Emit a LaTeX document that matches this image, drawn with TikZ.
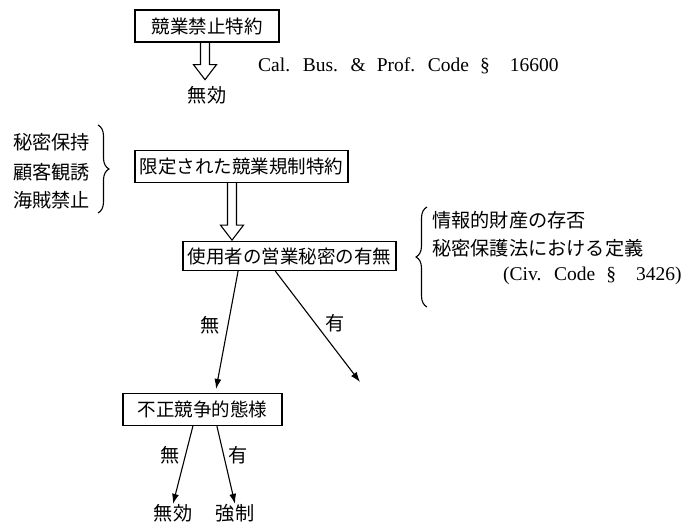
\documentclass[tikz,border=0pt]{standalone}
\usepackage{fontspec}
\setmainfont{Liberation Serif}
\newfontfamily\jp{Noto Sans CJK JP}
\newcommand\latfont{\fontsize{19.5}{22}\selectfont\spaceskip=11pt\relax}
\newcommand\jpbox{\jp\fontsize{18.5}{20}\selectfont}
\newcommand\jptxt{\jp\fontsize{19.2}{21}\selectfont}
\usetikzlibrary{arrows.meta,decorations.pathreplacing,calc}
\begin{document}
\begin{tikzpicture}[x=1pt,y=-1pt,
  box/.style={draw,line width=1.3pt,inner xsep=3pt,inner ysep=0pt,minimum height=32pt,font=\jpbox},
  txt/.style={inner sep=0pt,font=\jptxt},
  lat/.style={inner sep=0pt,font=\latfont},
  arr/.style={line width=1.1pt,-{Latex[length=10pt,width=7pt]}},
  hollow/.style={line width=1.1pt,line join=miter},
  brc/.style={line width=1.1pt,decorate,decoration={brace,amplitude=11pt}}]
\useasboundingbox (0,0) rectangle (694,527);

% boxes
\node[box,minimum width=144pt] (b1) at (207,26) {競業禁止特約};
\node[box,minimum width=213pt] (b2) at (241.5,166.5) {限定された競業規制特約};
\node[box,minimum width=213pt,minimum height=29pt] (b3) at (289.5,256) {使用者の営業秘密の有無};
\node[box,minimum width=159pt] (b4) at (202.5,409.5) {不正競争的態様};

% top
\node[txt] (v1) at (207,95) {無効};
\node[lat,anchor=base west] (cal) at (258,72) {Cal. Bus. \& Prof. Code §\hspace{20pt}16600};

% hollow arrow 1
\coordinate (h1) at (b1.south -| 205,0);
\draw[hollow] (h1) ++(-4.5,0) -- ++(0,22) -- ++(-7,0) -- ++(11.5,15) -- ++(11.5,-15) -- ++(-7,0) -- ++(0,-22);

% left group
\node[txt,anchor=west] (l1) at (13,142) {秘密保持};
\node[txt,anchor=west] (l2) at (13,172) {顧客観誘};
\node[txt,anchor=west] (l3) at (13,200) {海賊禁止};
\draw[brc] (98,125) -- (98,213);

% hollow arrow 2
\coordinate (h2) at (b2.south -| 232,0);
\draw[hollow] (h2) ++(-4.5,0) -- ++(0,42) -- ++(-7,0) -- ++(11.5,15) -- ++(11.5,-15) -- ++(-7,0) -- ++(0,-42);

% right group
\draw[brc] (427,307) -- (427,207);
\node[txt,anchor=west] (r1) at (432,220) {情報的財産の存否};
\node[txt,anchor=west] (r2) at (432,248) {秘密保護法における定義};
\node[lat,anchor=west] (r3) at (503,276) {(Civ. Code §\hspace{20pt}3426)};

% branches from b3
\path (b3.south west) -- (b3.south east) coordinate[pos=0.26] (b3a) coordinate[pos=0.434] (b3b);
\path (b4.north west) -- (b4.north east) coordinate[pos=0.58] (b4n);
\coordinate (e1) at (360,382);
\draw[arr,shorten >=4pt] (b3a) -- (b4n);
\draw[arr] (b3b) -- (e1);
\node[txt] (m1) at (210,325) {無};
\node[txt] (y1) at (335,323) {有};

% branches from b4
\node[txt] (f1) at (173,513) {無効};
\node[txt] (f2) at (235,513) {強制};
\path (b4.south west) -- (b4.south east) coordinate[pos=0.44] (b4a) coordinate[pos=0.59] (b4b);
\draw[arr] (b4a) -- (f1.north);
\draw[arr] (b4b) -- (f2.north);
\node[txt] (m2) at (170,455) {無};
\node[txt] (y2) at (238,455) {有};
\end{tikzpicture}
\end{document}
